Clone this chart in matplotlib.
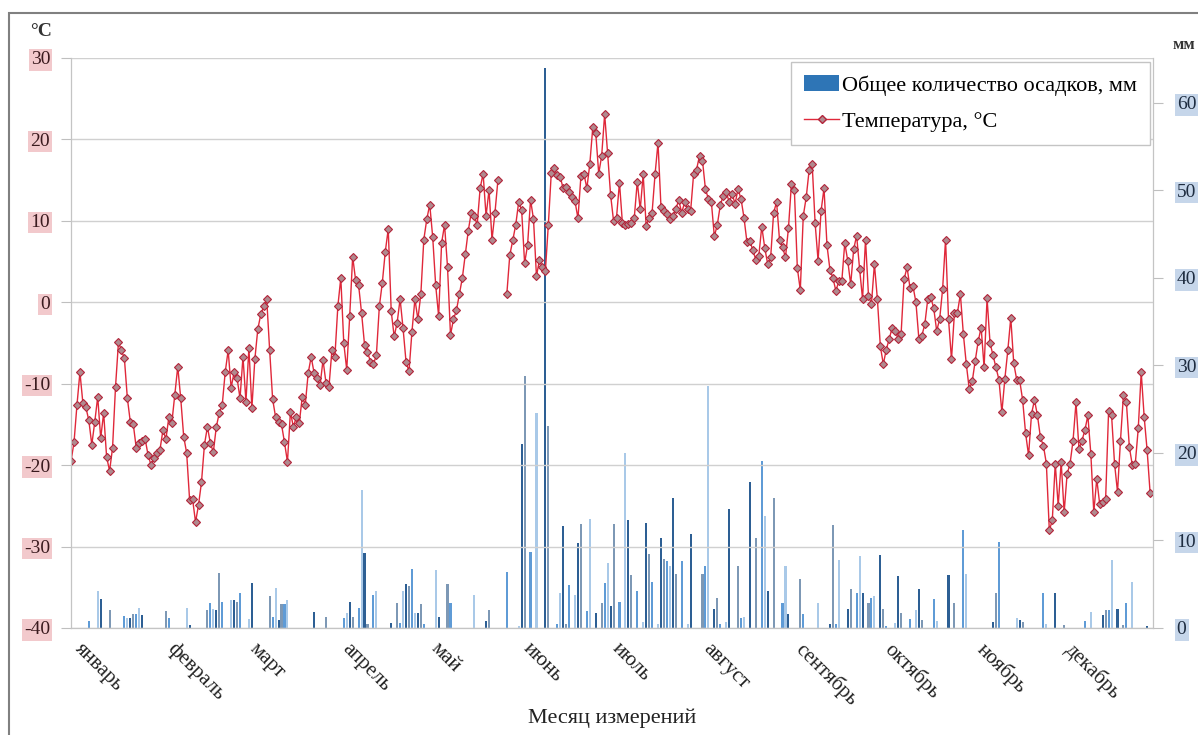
import numpy as np
import matplotlib.pyplot as plt
from matplotlib.patches import Rectangle, Patch
from matplotlib.lines import Line2D

plt.rcParams['font.family'] = ['Liberation Serif', 'DejaVu Serif']
plt.rcParams['axes.unicode_minus'] = False

# месяцы и число дней
months = ['январь', 'февраль', 'март', 'апрель', 'май', 'июнь',
          'июль', 'август', 'сентябрь', 'октябрь', 'ноябрь', 'декабрь']
days_in_month = [31, 28, 31, 30, 31, 30, 31, 31, 30, 31, 30, 31]

# среднесуточная температура, °С (по месяцам)
t_jan = [-19.5, -17.2, -12.6, -8.6, -12.4, -12.9, -14.5, -17.5, -14.7, -11.6,
         -16.7, -13.6, -19.0, -20.7, -17.9, -10.4, -4.9, -5.9, -6.9, -11.8,
         -14.7, -15.0, -17.9, -17.3, -17.0, -16.8, -18.8, -20.0, -19.1, -18.5, -18.1]
t_feb = [-15.7, -16.8, -14.1, -14.8, -11.4, -7.9, -11.8, -16.5, -18.5, -24.3,
         -24.2, -27.0, -24.9, -22.1, -17.5, -15.3, -17.3, -18.4, -15.3, -13.6,
         -12.6, -8.6, -5.9, -10.5, -8.6, -9.3, -11.8, -6.7]
t_mar = [-12.2, -5.6, -13.0, -7.0, -3.3, -1.5, -0.5, 0.4, -5.9, -11.9,
         -14.1, -14.7, -15.0, -17.2, -19.6, -13.5, -15.3, -14.1, -14.8, -11.6,
         -12.6, -8.7, -6.7, -8.7, -9.3, -10.2, -7.1, -9.9, -10.4, -5.9, -6.7]
t_apr = [-0.5, 3.0, -5.0, -8.3, -1.7, 5.6, 2.7, 2.1, -1.3, -5.2,
         -6.1, -7.3, -7.6, -6.5, -0.5, 2.4, 6.2, 9.0, -1.1, -4.2,
         -2.5, 0.4, -3.2, -7.3, -8.5, -3.6, 0.4, -2.1, 1.0, 7.7]
t_may = [10.2, 12.0, 8.0, 2.1, -1.7, 7.3, 9.5, 4.3, -4.0, -2.1,
         -1.0, 1.0, 3.0, 5.9, 8.8, 11.0, 10.6, 9.5, 14.0, 15.8,
         10.6, 13.8, 7.7, 11.0, 15.0, np.nan, np.nan, 1.0, 5.8, 7.6, 9.5]
t_jun = [12.3, 11.3, 4.8, 7.0, 12.6, 10.2, 3.2, 5.2, 4.3, 3.8,
         9.5, 15.9, 16.5, 15.6, 15.4, 14.0, 14.2, 13.6, 12.9, 12.4,
         10.3, 15.5, 15.8, 14.0, 17.0, 21.5, 20.8, 15.8, 18.0, 23.1]
t_jul = [18.3, 13.2, 10.0, 10.4, 14.7, 9.7, 9.5, 9.6, 9.7, 10.4,
         14.8, 11.4, 15.7, 9.4, 10.4, 11.0, 15.7, 19.6, 11.7, 11.2,
         10.8, 10.2, 10.6, 11.5, 12.5, 11.0, 12.3, 11.4, 11.2, 15.7, 16.3]
t_aug = [18.0, 17.4, 13.9, 12.7, 12.3, 8.1, 9.5, 11.9, 13.1, 13.6,
         12.3, 13.3, 12.1, 13.9, 12.7, 10.4, 7.4, 7.5, 6.4, 5.2,
         5.7, 9.3, 6.7, 4.7, 5.5, 11.0, 12.3, 7.6, 6.8, 5.5, 9.1]
t_sep = [14.5, 13.8, 4.2, 1.5, 10.6, 12.9, 16.3, 17.0, 9.7, 5.1,
         11.2, 14.0, 7.0, 4.0, 3.0, 1.4, 2.6, 2.6, 7.3, 5.1,
         2.2, 6.5, 8.2, 4.1, 0.4, 7.7, 0.8, -0.2, 4.7, 0.4]
t_oct = [-5.4, -7.6, -5.8, -4.5, -3.1, -3.5, -4.5, -3.9, 2.8, 4.3,
         1.8, 2.0, 0.0, -4.5, -4.1, -2.7, 0.4, 0.6, -0.7, -3.5,
         -2.1, 1.6, 7.7, -2.1, -7.0, -1.3, -1.3, 1.0, -3.9, -7.6, -10.7]
t_nov = [-9.7, -7.2, -4.8, -3.1, -8.0, 0.5, -5.0, -6.5, -8.0, -9.5,
         -13.5, -9.4, -5.9, -1.9, -7.5, -9.5, -9.6, -12.0, -16.1, -18.8,
         -13.7, -12.0, -13.9, -16.6, -17.6, -19.8, -28.0, -26.8, -19.8, -25.0]
t_dec = [-19.6, -25.8, -21.1, -19.8, -17.0, -12.3, -18.0, -17.0, -15.7, -13.9,
         -18.6, -25.8, -21.7, -24.8, -24.5, -24.1, -13.3, -13.9, -19.8, -23.3,
         -17.0, -11.4, -12.3, -17.8, -20.0, -19.8, -15.5, -8.6, -14.1, -18.2, -23.4]

# осадки: номер дня года (с 0) и количество, мм
precip_day = [6, 9, 10, 13, 18, 19, 20, 21, 22, 23, 24, 32, 33, 39, 40, 46, 47, 48, 49, 50,
              51, 54, 55, 56, 57, 60, 61, 67, 68, 69, 70, 71, 72, 73, 82, 86, 92, 93, 94, 95,
              97, 98, 99, 100, 102, 103, 108, 110, 111, 112, 113, 114, 115, 116, 117, 118, 119, 123, 124, 127,
              128, 136, 140, 141, 147, 151, 152, 153, 155, 157, 160, 161, 164, 165, 166, 167, 168, 170, 171, 172,
              174, 175, 177, 179, 180, 181, 182, 183, 185, 187, 188, 189, 191, 193, 194, 195, 196, 198, 199, 200,
              201, 202, 203, 204, 206, 208, 209, 213, 214, 215, 217, 218, 219, 221, 222, 225, 226, 227, 229, 231,
              233, 234, 235, 237, 240, 241, 242, 246, 247, 252, 256, 257, 258, 259, 262, 263, 265, 266, 267, 269,
              270, 271, 273, 274, 275, 278, 279, 280, 283, 285, 286, 287, 291, 292, 296, 298, 301, 302, 311, 312,
              313, 319, 320, 321, 328, 329, 332, 335, 342, 344, 348, 349, 350, 351, 353, 355, 356, 358, 363]
precip_mm = [0.8, 4.2, 3.3, 2.0, 1.4, 1.1, 1.1, 1.6, 1.6, 2.3, 1.5, 1.9, 1.1, 2.3, 0.3, 2.0, 2.8, 2.2, 2.0, 6.3,
             3.0, 3.2, 3.2, 3.0, 4.0, 1.0, 5.1, 3.6, 1.3, 4.6, 0.9, 2.7, 2.7, 3.2, 1.8, 1.3, 1.1, 1.7, 3.0, 1.3,
             2.3, 15.8, 8.6, 0.4, 3.8, 4.2, 0.6, 2.9, 0.6, 4.2, 5.0, 4.8, 6.7, 1.7, 1.7, 2.7, 0.4, 6.6, 1.3, 5.0,
             2.8, 3.8, 0.8, 2.1, 6.4, 0.2, 21.0, 28.8, 8.7, 24.6, 64.0, 23.1, 0.4, 4.0, 11.7, 0.4, 4.9, 3.8, 9.7, 11.9,
             1.9, 12.5, 1.7, 2.8, 5.1, 7.4, 2.5, 11.9, 3.0, 20.0, 12.3, 6.1, 4.2, 0.7, 12.0, 8.4, 5.2, 0.4, 10.3, 7.9,
             7.7, 7.1, 14.9, 6.2, 7.7, 0.4, 10.7, 6.2, 7.1, 27.7, 2.2, 3.4, 0.4, 0.7, 13.6, 7.1, 1.1, 1.3, 16.7, 10.3,
             19.1, 12.8, 4.2, 14.9, 2.8, 7.1, 1.6, 5.6, 1.6, 2.8, 0.5, 11.8, 0.5, 7.8, 2.2, 4.5, 4.0, 8.2, 4.0, 2.8,
             3.4, 3.6, 8.3, 2.2, 0.2, 0.6, 5.9, 1.7, 1.0, 2.1, 4.5, 0.9, 3.3, 0.8, 6.1, 2.9, 11.2, 6.2, 0.7, 4.0,
             9.8, 1.1, 0.9, 0.7, 4.0, 0.5, 4.0, 0.3, 0.8, 1.8, 1.5, 2.0, 2.1, 7.8, 2.2, 0.3, 2.8, 5.2, 0.2]

temp = np.array(t_jan + t_feb + t_mar + t_apr + t_may + t_jun +
                t_jul + t_aug + t_sep + t_oct + t_nov + t_dec)
days = np.arange(len(temp))
month_start = np.cumsum([0] + days_in_month[:-1])

fig = plt.figure(figsize=(11.98, 7.35), dpi=100)
ax = fig.add_axes([0.0593, 0.1456, 0.9032, 0.7755])
ax2 = ax.twinx()

# столбики осадков (правая ось)
bar_colors = ['#5f9bd6', '#a9c9e8', '#2d5f94', '#7d98b5']
ax2.bar(precip_day, precip_mm, width=0.7, linewidth=0,
        color=[bar_colors[i % len(bar_colors)] for i in range(len(precip_day))])
ax2.set_ylim(0, 570 / 8.75)
ax2.set_yticks(range(0, 70, 10))

# температура (левая ось)
ax.set_zorder(ax2.get_zorder() + 1)
ax.patch.set_visible(False)
ax.plot(days, temp, color='#e0283a', linewidth=1.0, marker='D', markersize=4,
        markerfacecolor='#b08a8f', markeredgecolor='#b3243a', markeredgewidth=0.8)
ax.set_ylim(-40, 30)
ax.set_xlim(0, 365)
ax.set_yticks(range(-40, 31, 10))
ax.yaxis.grid(True, color='#d0d0d0', linewidth=1.0)

ax.set_xticks(month_start)
ax.set_xticklabels(months, rotation=-45, ha='left')
ax.tick_params(axis='x', length=0, pad=8, labelsize=15, labelcolor='#222222')
ax.tick_params(axis='y', direction='out', length=7, color='#bfbfbf', pad=8,
               labelsize=14, labelcolor='#3a1a1e')
ax2.tick_params(axis='y', direction='out', length=7, color='#bfbfbf', pad=10,
                labelsize=14, labelcolor='#1e2c40')

for lbl in ax.get_yticklabels():
    lbl.set_bbox(dict(facecolor='#f2c9cc', edgecolor='none', pad=1.5))
for lbl in ax2.get_yticklabels():
    lbl.set_bbox(dict(facecolor='#c6d6ea', edgecolor='none', pad=1.5))

for a in (ax, ax2):
    a.spines['top'].set_visible(False)
    for s in ('left', 'right', 'bottom'):
        a.spines[s].set_color('#c4c4c4')

# легенда
handles = [Patch(facecolor='#2e75b6', edgecolor='none'),
           Line2D([], [], color='#e0283a', linewidth=1.0, marker='D', markersize=4,
                  markerfacecolor='#b08a8f', markeredgecolor='#b3243a')]
leg = ax.legend(handles, ['Общее количество осадков, мм', 'Температура, °С'],
                loc='upper right', bbox_to_anchor=(0.997, 0.993), borderaxespad=0,
                fontsize=16, frameon=True, fancybox=False, framealpha=1,
                edgecolor='#c4c4c4', handlelength=1.6, handletextpad=0.1,
                labelspacing=0.7, borderpad=0.6)

fig.text(30 / 1198, 1 - 32 / 735, '°С', fontsize=14, fontweight='bold',
         color='#333333', va='center')
fig.text(1173 / 1198, 1 - 45 / 735, 'мм', fontsize=12, fontweight='bold',
         color='#333333', va='center')
fig.text(0.511, 1 - 718 / 735, 'Месяц измерений', fontsize=16,
         color='#222222', ha='center', va='center')

# рамка вокруг рисунка
fig.add_artist(Rectangle((9 / 1198, -0.1), 1.2, 1.1 - 13 / 735,
                         transform=fig.transFigure, fill=False,
                         edgecolor='#808080', linewidth=1.5))

fig.savefig('out.png', dpi=100)
